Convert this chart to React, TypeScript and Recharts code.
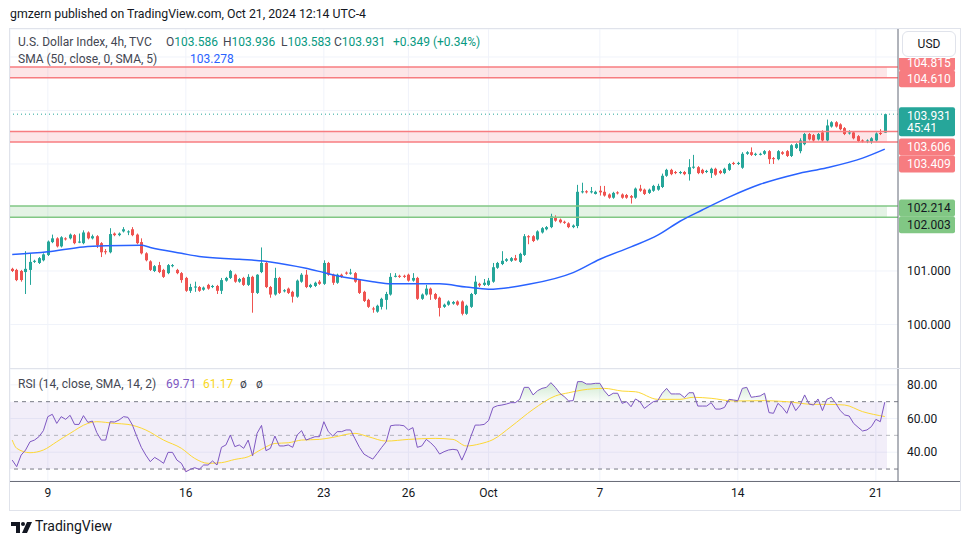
import React from "react";
import {
  ComposedChart,
  Bar,
  Line,
  Area,
  XAxis,
  YAxis,
  CartesianGrid,
  ReferenceLine,
  ReferenceArea,
} from "recharts";

// 4h candles, Sep 6 -> Oct 21 2024
const opens = [
  101.04, 101.02, 101.0, 100.98, 101.02, 101.17, 101.15, 101.2, 101.3, 101.54,
  101.61, 101.46, 101.61, 101.61, 101.67, 101.53, 101.52, 101.72, 101.61, 101.65,
  101.52, 101.37, 101.35, 101.7, 101.67, 101.74, 101.73, 101.78, 101.68, 101.54,
  101.33, 101.18, 101.0, 101.11, 101.02, 100.96, 101.09, 101.02, 100.96, 100.87,
  100.63, 100.69, 100.7, 100.65, 100.74, 100.7, 100.72, 100.63, 100.82, 100.87,
  100.93, 100.8, 100.87, 100.74, 100.89, 100.59, 100.98, 101.15, 100.7, 100.56,
  100.87, 100.62, 100.67, 100.61, 100.52, 100.8, 100.93, 100.7, 100.72, 100.8,
  100.76, 101.15, 100.93, 100.78, 100.93, 100.97, 100.95, 100.96, 100.83, 100.61,
  100.46, 100.3, 100.24, 100.33, 100.46, 100.56, 100.89, 100.91, 100.91, 100.93,
  100.82, 100.87, 100.48, 100.56, 100.67, 100.57, 100.5, 100.33, 100.37, 100.39,
  100.43, 100.43, 100.2, 100.33, 100.57, 100.76, 100.74, 100.74, 100.8, 101.06,
  101.13, 101.19, 101.19, 101.24, 101.17, 101.3, 101.65, 101.65, 101.59, 101.72,
  101.78, 101.82, 102.0, 101.96, 101.92, 101.89, 101.82, 101.84, 102.47, 102.49,
  102.47, 102.44, 102.5, 102.48, 102.43, 102.37, 102.47, 102.43, 102.42, 102.4,
  102.37, 102.54, 102.52, 102.46, 102.5, 102.52, 102.57, 102.78, 102.89, 102.85,
  102.83, 102.85, 102.81, 102.93, 102.94, 102.89, 102.85, 102.83, 102.91, 102.87,
  102.83, 102.89, 103.02, 103.0, 102.93, 103.19, 103.22, 103.17, 103.18, 103.19,
  103.24, 103.11, 103.09, 103.22, 103.24, 103.15, 103.3, 103.24, 103.37, 103.56,
  103.54, 103.46, 103.59, 103.44, 103.7, 103.78, 103.74, 103.67, 103.57, 103.59,
  103.52, 103.44, 103.42, 103.42, 103.44, 103.58, 103.586,
];
const highs = [
  101.06, 101.04, 101.02, 101.37, 101.33, 101.21, 101.26, 101.33, 101.57, 101.68,
  101.63, 101.65, 101.63, 101.7, 101.69, 101.7, 101.76, 101.74, 101.68, 101.67,
  101.54, 101.41, 101.8, 101.72, 101.72, 101.82, 101.76, 101.82, 101.7, 101.61,
  101.35, 101.2, 101.11, 101.17, 101.04, 101.13, 101.13, 101.04, 100.98, 100.89,
  100.76, 100.8, 100.72, 100.71, 100.76, 100.74, 100.74, 100.87, 100.89, 101.02,
  100.95, 100.87, 100.89, 100.94, 100.91, 100.94, 101.44, 101.17, 100.72, 101.06,
  100.89, 100.66, 100.69, 100.63, 100.84, 100.96, 101.02, 100.76, 100.8, 100.83,
  101.2, 101.17, 100.95, 100.95, 100.95, 100.99, 101.04, 100.98, 100.85, 100.63,
  100.48, 100.33, 100.37, 100.5, 100.61, 100.96, 100.96, 100.93, 100.93, 100.95,
  100.96, 100.89, 100.58, 100.74, 100.69, 100.59, 100.52, 100.39, 100.45, 100.44,
  100.45, 100.45, 100.37, 100.59, 100.91, 100.78, 100.85, 100.87, 101.15, 101.17,
  101.37, 101.24, 101.26, 101.3, 101.34, 101.69, 101.67, 101.67, 101.76, 101.82,
  101.84, 102.07, 102.04, 101.98, 101.94, 101.91, 101.87, 102.61, 102.65, 102.51,
  102.57, 102.5, 102.59, 102.59, 102.45, 102.48, 102.49, 102.45, 102.44, 102.42,
  102.56, 102.61, 102.54, 102.54, 102.61, 102.63, 102.82, 102.91, 102.91, 102.87,
  102.87, 102.87, 103.09, 103.17, 102.96, 102.91, 102.89, 102.93, 102.93, 102.89,
  102.93, 103.02, 103.04, 103.04, 103.22, 103.24, 103.31, 103.21, 103.21, 103.26,
  103.26, 103.13, 103.26, 103.24, 103.26, 103.37, 103.39, 103.48, 103.58, 103.58,
  103.56, 103.58, 103.63, 103.83, 103.8, 103.8, 103.76, 103.69, 103.63, 103.61,
  103.54, 103.46, 103.46, 103.5, 103.59, 103.65, 103.936,
];
const lows = [
  100.98, 100.81, 100.8, 100.57, 100.74, 101.15, 101.13, 101.18, 101.28, 101.52,
  101.44, 101.44, 101.57, 101.59, 101.5, 101.52, 101.5, 101.59, 101.59, 101.43,
  101.26, 101.31, 101.33, 101.65, 101.65, 101.72, 101.67, 101.65, 101.5, 101.31,
  101.18, 101.0, 100.98, 100.96, 100.87, 100.94, 101.07, 100.94, 100.78, 100.61,
  100.59, 100.61, 100.61, 100.63, 100.65, 100.68, 100.57, 100.57, 100.8, 100.85,
  100.78, 100.78, 100.72, 100.72, 100.22, 100.57, 100.96, 100.68, 100.5, 100.54,
  100.57, 100.6, 100.57, 100.41, 100.5, 100.78, 100.68, 100.68, 100.7, 100.74,
  100.74, 100.91, 100.74, 100.76, 100.87, 100.93, 100.93, 100.78, 100.57, 100.42,
  100.31, 100.22, 100.22, 100.28, 100.28, 100.54, 100.88, 100.87, 100.87, 100.8,
  100.8, 100.46, 100.46, 100.54, 100.46, 100.46, 100.15, 100.31, 100.35, 100.37,
  100.35, 100.17, 100.18, 100.31, 100.55, 100.7, 100.72, 100.72, 100.78, 101.04,
  101.11, 101.17, 101.17, 101.19, 101.15, 101.28, 101.5, 101.54, 101.57, 101.7,
  101.76, 101.8, 101.92, 101.89, 101.88, 101.8, 101.8, 101.8, 102.45, 102.45,
  102.45, 102.43, 102.41, 102.39, 102.35, 102.35, 102.43, 102.35, 102.35, 102.26,
  102.35, 102.48, 102.42, 102.44, 102.48, 102.5, 102.55, 102.76, 102.79, 102.81,
  102.81, 102.79, 102.69, 102.91, 102.81, 102.81, 102.83, 102.74, 102.78, 102.81,
  102.81, 102.87, 102.98, 102.98, 102.91, 103.17, 103.15, 103.15, 103.16, 103.17,
  103.0, 103.0, 103.07, 103.17, 103.13, 103.13, 103.28, 103.2, 103.35, 103.44,
  103.42, 103.44, 103.42, 103.42, 103.68, 103.68, 103.63, 103.54, 103.55, 103.46,
  103.41, 103.4, 103.39, 103.38, 103.42, 103.54, 103.583,
];
const closes = [
  101.0, 100.83, 100.83, 101.04, 101.17, 101.19, 101.24, 101.31, 101.55, 101.61,
  101.46, 101.63, 101.59, 101.68, 101.52, 101.55, 101.72, 101.61, 101.65, 101.48,
  101.35, 101.35, 101.69, 101.67, 101.7, 101.78, 101.74, 101.67, 101.52, 101.33,
  101.2, 101.02, 101.09, 100.98, 100.89, 101.11, 101.11, 100.96, 100.83, 100.63,
  100.7, 100.71, 100.63, 100.69, 100.67, 100.72, 100.63, 100.83, 100.87, 101.0,
  100.8, 100.85, 100.74, 100.89, 100.59, 100.93, 101.15, 100.7, 100.56, 100.87,
  100.59, 100.64, 100.59, 100.52, 100.82, 100.93, 100.7, 100.74, 100.78, 100.76,
  101.15, 100.93, 100.78, 100.93, 100.89, 100.95, 100.97, 100.8, 100.59, 100.44,
  100.33, 100.28, 100.35, 100.48, 100.57, 100.89, 100.91, 100.89, 100.89, 100.82,
  100.87, 100.48, 100.56, 100.67, 100.56, 100.48, 100.31, 100.37, 100.43, 100.42,
  100.37, 100.2, 100.35, 100.57, 100.8, 100.73, 100.78, 100.82, 101.07, 101.15,
  101.19, 101.22, 101.24, 101.2, 101.32, 101.65, 101.63, 101.56, 101.74, 101.8,
  101.82, 102.02, 101.94, 101.91, 101.9, 101.82, 101.85, 102.48, 102.49, 102.47,
  102.49, 102.48, 102.47, 102.41, 102.37, 102.46, 102.45, 102.37, 102.37, 102.37,
  102.54, 102.5, 102.44, 102.52, 102.59, 102.59, 102.78, 102.89, 102.81, 102.83,
  102.85, 102.81, 102.94, 102.95, 102.83, 102.83, 102.87, 102.91, 102.8, 102.83,
  102.91, 103.0, 103.0, 103.02, 103.19, 103.22, 103.17, 103.19, 103.19, 103.24,
  103.09, 103.09, 103.24, 103.19, 103.15, 103.35, 103.37, 103.44, 103.56, 103.46,
  103.44, 103.56, 103.44, 103.72, 103.78, 103.7, 103.65, 103.56, 103.59, 103.48,
  103.43, 103.42, 103.44, 103.48, 103.57, 103.56, 103.931,
];

// RSI(14), one value per candle
const rsiValues = [
  35.3, 31.4, 38.3, 41.3, 46.2, 47.2, 49.2, 52.8, 61.1, 62.5,
  57.1, 61.1, 59.5, 61.9, 56.5, 56.5, 61.7, 57.7, 58.5, 51.6,
  47.2, 47.2, 58.1, 57.9, 59.1, 61.1, 60.7, 56.1, 49.2, 42.9,
  38.3, 34.4, 36.9, 35.3, 33.4, 39.9, 39.9, 35.3, 33.4, 28.4,
  29.8, 30.8, 29.8, 32.4, 32.4, 34.8, 32.4, 42.9, 44.3, 50.2,
  43.3, 44.3, 42.3, 47.2, 37.9, 51.2, 55.9, 40.9, 42.3, 49.6,
  43.7, 43.7, 44.3, 42.9, 50.2, 52.8, 47.2, 48.2, 49.2, 49.2,
  58.1, 52.2, 49.6, 52.2, 52.2, 53.2, 53.2, 48.0, 42.9, 38.9,
  37.3, 35.9, 39.3, 42.9, 46.2, 55.7, 56.1, 56.1, 55.7, 53.2,
  54.6, 42.9, 43.7, 47.6, 45.6, 42.9, 38.9, 40.3, 41.3, 41.7,
  41.3, 35.3, 41.3, 49.2, 56.1, 56.1, 56.5, 58.8, 66.5, 67.6,
  68.0, 68.6, 69.4, 69.4, 71.4, 78.5, 78.5, 74.0, 76.5, 77.9,
  78.5, 81.3, 78.5, 75.0, 73.0, 70.4, 70.6, 81.9, 81.9, 80.5,
  80.5, 80.9, 80.9, 76.5, 73.4, 75.0, 75.0, 69.0, 70.0, 67.0,
  71.6, 70.0, 66.0, 68.0, 70.0, 70.6, 75.0, 77.9, 74.6, 74.6,
  74.6, 72.4, 75.3, 75.3, 67.4, 67.4, 67.4, 69.4, 65.6, 65.6,
  66.6, 71.4, 71.0, 70.6, 77.9, 78.5, 72.6, 73.0, 73.4, 75.0,
  63.5, 63.1, 69.0, 66.6, 63.1, 70.0, 64.7, 68.0, 74.0, 68.6,
  68.0, 71.6, 64.7, 71.4, 72.6, 69.0, 64.7, 62.1, 61.5, 57.1,
  54.8, 52.6, 53.2, 55.2, 59.5, 58.1, 69.71,
];

// SMA(50) on price, read at these candle positions
const smaAt = [0, 8, 16, 21, 29, 31, 38, 42, 51, 58, 66, 70, 73, 81, 85, 96, 102, 107, 116, 126, 132, 139, 145, 150, 155, 161, 168, 176, 183, 191, 196];
const smaValues = [101.31, 101.36, 101.45, 101.47, 101.48, 101.44, 101.33, 101.27, 101.22, 101.17, 101.05, 100.97, 100.91, 100.8, 100.76, 100.76, 100.7, 100.66, 100.75, 100.97, 101.22, 101.45, 101.67, 101.93, 102.14, 102.38, 102.62, 102.81, 102.93, 103.11, 103.278];

// SMA(14) on RSI
const rsiMaAt = [0, 1, 4, 7, 10, 13, 17, 19, 23, 26, 30, 34, 38, 41, 44, 47, 50, 53, 56, 59, 62, 65, 69, 72, 77, 80, 84, 89, 95, 99, 102, 105, 108, 112, 117, 122, 125, 128, 133, 137, 140, 145, 150, 153, 157, 162, 169, 174, 180, 183, 187, 191, 196];
const rsiMaValues = [47.2, 42.3, 39.7, 41.3, 46.2, 51.2, 57.1, 58.1, 57.1, 56.5, 53.2, 47.2, 42.3, 36.3, 33.4, 33.8, 35.7, 37.3, 41.7, 45.2, 45.6, 47.2, 47.6, 48.8, 51.2, 49.2, 46.6, 47.6, 48.2, 47.6, 43.7, 44.9, 47.5, 55.1, 65.4, 73.4, 75.3, 76.9, 77.9, 76.3, 75.9, 71.4, 71.4, 72.6, 72.0, 70.4, 70.6, 70.0, 68.4, 68.4, 68.0, 64.1, 61.17];

const tickAt = [8, 39, 70, 89, 107, 132, 163, 194];
const tickLabels = ["9", "16", "23", "26", "Oct", "7", "14", "21"];

const zoneLows = [104.61, 103.409, 102.003];
const zoneHighs = [104.815, 103.606, 102.214];
const lastPrice = 103.931;
const priceGrid = [100, 101, 102, 103, 104, 105];
const rsiTicks = [40, 60, 80];

const UP = "#26a69a";
const DOWN = "#ef5350";
const AXIS = "#6b6e79";
const GRID = "#f0f3fa";

const data = opens.map((o, i) => {
  const r = rsiValues[i];
  return {
    i,
    open: o,
    high: highs[i],
    low: lows[i],
    close: closes[i],
    range: [lows[i], highs[i]],
    sma: null as number | null,
    rsi: r,
    rsiMa: null as number | null,
    ob: r > 70 ? [70, r] : [70, 70],
    os: r < 30 ? [r, 30] : [30, 30],
  };
});
smaAt.forEach((idx, k) => (data[idx].sma = smaValues[k]));
rsiMaAt.forEach((idx, k) => (data[idx].rsiMa = rsiMaValues[k]));

const Candle = (props: any) => {
  const { x, y, width, height, payload } = props;
  if (!payload || x == null) return null;
  const { open, close, high, low } = payload;
  const top = Math.min(y, y + height);
  const h = Math.abs(height);
  const span = high - low;
  const toY = (v: number) => (span === 0 ? top : top + ((high - v) / span) * h);
  const color = close >= open ? UP : DOWN;
  const cx = Math.round(x + width / 2);
  const bTop = toY(Math.max(open, close));
  const bBot = toY(Math.min(open, close));
  return (
    <g>
      <line x1={cx + 0.5} x2={cx + 0.5} y1={top} y2={top + h} stroke={color} strokeWidth={1} />
      <rect x={cx - 1} y={bTop} width={3} height={Math.max(1, bBot - bTop)} fill={color} />
    </g>
  );
};

const PriceTag = (props: any) => {
  const { viewBox, text, sub, bg, fg, shift } = props;
  if (!viewBox) return null;
  const x0 = viewBox.x + viewBox.width + 1;
  const cy = viewBox.y + shift;
  const h = sub ? 29 : 17;
  return (
    <g>
      <rect x={x0} y={cy - 8.5} width={56} height={h} rx={2} fill={bg} />
      <text x={x0 + 8} y={cy} dy="0.35em" fontSize={12} fill={fg}>
        {text}
      </text>
      {sub && (
        <text x={x0 + 8} y={cy + 12.5} dy="0.35em" fontSize={12} fill={fg}>
          {sub}
        </text>
      )}
    </g>
  );
};

const PriceTick = (props: any) => {
  const { x, y, payload } = props;
  if (payload.value > 101) return null;
  return (
    <text x={x} y={y} dy="0.35em" fontSize={12} fill="#131722" textAnchor="start">
      {payload.value.toFixed(3)}
    </text>
  );
};

const RsiTick = (props: any) => {
  const { x, y, payload } = props;
  return (
    <text x={x} y={y} dy="0.35em" fontSize={12} fill="#131722" textAnchor="start">
      {payload.value.toFixed(2)}
    </text>
  );
};

const zoneStyle = [
  { fill: "#f23645", opacity: 0.13, line: "#f77c80", tag: "#f77c80", text: "#ffffff", shifts: [1, -4.5] },
  { fill: "#f23645", opacity: 0.13, line: "#f77c80", tag: "#f77c80", text: "#ffffff", shifts: [22, 15.5] },
  { fill: "#4caf50", opacity: 0.15, line: "#81c784", tag: "#81c784", text: "#131722", shifts: [7.5, 2] },
];

const abs = (s: React.CSSProperties): React.CSSProperties => ({ position: "absolute", ...s });
const legend = (left: number, top: number, color: string): React.CSSProperties =>
  abs({ left, top, fontSize: 12, whiteSpace: "nowrap", color });

export default function App() {
  return (
    <div
      style={abs({
        left: 0,
        top: 0,
        width: 970,
        height: 545,
        background: "#ffffff",
        fontFamily: "Roboto, 'Noto Sans', sans-serif",
        color: "#131722",
        overflow: "hidden",
      })}
    >
      <div style={abs({ left: 10, top: 7, fontSize: 12.3, whiteSpace: "nowrap" })}>
        gmzern published on TradingView.com, Oct 21, 2024 12:14 UTC-4
      </div>

      {/* price pane */}
      <div style={abs({ left: 10, top: 29 })}>
        <ComposedChart
          width={950}
          height={340}
          data={data}
          margin={{ top: 0, right: 0, bottom: 0, left: 0 }}
          barCategoryGap={0}
          barGap={0}
        >
          <CartesianGrid stroke={GRID} />
          <XAxis dataKey="i" scale="band" ticks={tickAt} hide padding={{ left: 0, right: 11 }} />
          <YAxis
            orientation="right"
            width={62}
            type="number"
            domain={[99.168, 105.523]}
            ticks={priceGrid}
            allowDataOverflow
            tickLine={false}
            tickSize={0}
            tickMargin={9}
            axisLine={{ stroke: AXIS }}
            tick={<PriceTick />}
          />
          {zoneLows.map((lo, k) => (
            <ReferenceArea
              key={"za" + k}
              y1={lo}
              y2={zoneHighs[k]}
              fill={zoneStyle[k].fill}
              fillOpacity={zoneStyle[k].opacity}
              stroke="none"
            />
          ))}
          {zoneLows.map((lo, k) => (
            <ReferenceLine
              key={"zl" + k}
              y={lo}
              stroke={zoneStyle[k].line}
              strokeWidth={1.5}
              label={
                <PriceTag
                  text={lo.toFixed(3)}
                  bg={zoneStyle[k].tag}
                  fg={zoneStyle[k].text}
                  shift={zoneStyle[k].shifts[0]}
                />
              }
            />
          ))}
          {zoneHighs.map((hi, k) => (
            <ReferenceLine
              key={"zh" + k}
              y={hi}
              stroke={zoneStyle[k].line}
              strokeWidth={1.5}
              label={
                <PriceTag
                  text={hi.toFixed(3)}
                  bg={zoneStyle[k].tag}
                  fg={zoneStyle[k].text}
                  shift={zoneStyle[k].shifts[1]}
                />
              }
            />
          ))}
          <ReferenceLine
            y={lastPrice}
            stroke={UP}
            strokeDasharray="1 3"
            label={<PriceTag text={lastPrice.toFixed(3)} sub="45:41" bg={UP} fg="#ffffff" shift={1.5} />}
          />
          <Bar dataKey="range" shape={<Candle />} isAnimationActive={false} />
          <Line
            dataKey="sma"
            type="monotone"
            stroke="#2962ff"
            strokeWidth={1.5}
            dot={false}
            connectNulls
            isAnimationActive={false}
          />
        </ComposedChart>
      </div>

      {/* RSI pane */}
      <div style={abs({ left: 10, top: 369 })}>
        <ComposedChart width={950} height={140} data={data} margin={{ top: 0, right: 0, bottom: 0, left: 0 }}>
          <defs>
            <linearGradient id="obFill" x1="0" y1="0" x2="0" y2="1">
              <stop offset="0%" stopColor="#4caf50" stopOpacity={0.45} />
              <stop offset="100%" stopColor="#4caf50" stopOpacity={0.05} />
            </linearGradient>
            <linearGradient id="osFill" x1="0" y1="0" x2="0" y2="1">
              <stop offset="0%" stopColor="#f23645" stopOpacity={0.05} />
              <stop offset="100%" stopColor="#f23645" stopOpacity={0.4} />
            </linearGradient>
          </defs>
          <CartesianGrid stroke={GRID} />
          <XAxis
            dataKey="i"
            scale="band"
            ticks={tickAt}
            height={28}
            padding={{ left: 0, right: 11 }}
            axisLine={false}
            tickLine={false}
            tickSize={5}
            tick={{ fontSize: 12, fill: "#131722" }}
            tickFormatter={(v: number) => tickLabels[tickAt.indexOf(v)] ?? ""}
          />
          <YAxis
            orientation="right"
            width={62}
            type="number"
            domain={[22.9, 89.4]}
            ticks={rsiTicks}
            allowDataOverflow
            tickLine={false}
            tickSize={0}
            tickMargin={9}
            axisLine={{ stroke: AXIS }}
            tick={<RsiTick />}
          />
          <ReferenceArea y1={30} y2={70} fill="#7e57c2" fillOpacity={0.1} stroke="none" />
          <ReferenceLine y={70} stroke="#787b86" strokeDasharray="4 4" />
          <ReferenceLine y={50} stroke="#787b86" strokeOpacity={0.5} strokeDasharray="4 4" />
          <ReferenceLine y={30} stroke="#787b86" strokeDasharray="4 4" />
          <Area dataKey="ob" type="linear" stroke="none" fill="url(#obFill)" isAnimationActive={false} />
          <Area dataKey="os" type="linear" stroke="none" fill="url(#osFill)" isAnimationActive={false} />
          <Line
            dataKey="rsiMa"
            type="monotone"
            stroke="#fdd835"
            strokeWidth={1}
            dot={false}
            connectNulls
            isAnimationActive={false}
          />
          <Line dataKey="rsi" type="linear" stroke="#7e57c2" strokeWidth={1} dot={false} isAnimationActive={false} />
        </ComposedChart>
      </div>

      {/* frame and pane separators */}
      <div style={abs({ left: 10, top: 368, width: 950, height: 1, background: "#e0e3eb" })} />
      <div style={abs({ left: 10, top: 481, width: 950, height: 1, background: AXIS })} />
      <div
        style={abs({
          left: 9,
          top: 28,
          width: 950,
          height: 481,
          border: "1px solid #e0e3eb",
          pointerEvents: "none",
        })}
      />
      <div style={abs({ left: 899, top: 29, width: 60, height: 29, background: "#ffffff" })} />
      <div
        style={abs({
          left: 902,
          top: 31,
          width: 52,
          height: 24,
          border: "1px solid #e0e3eb",
          borderRadius: 6,
          fontSize: 12,
          lineHeight: "24px",
          textAlign: "center",
          background: "#ffffff",
        })}
      >
        USD
      </div>

      {/* legends */}
      <div style={legend(18, 35, "#434651")}>U.S. Dollar Index, 4h, TVC</div>
      <div style={legend(166, 35, "#434651")}>
        O<span style={{ color: "#089981" }}>103.586</span>
      </div>
      <div style={legend(223, 35, "#434651")}>
        H<span style={{ color: "#089981" }}>103.936</span>
      </div>
      <div style={legend(281, 35, "#434651")}>
        L<span style={{ color: "#089981" }}>103.583</span>
      </div>
      <div style={legend(334, 35, "#434651")}>
        C<span style={{ color: "#089981" }}>103.931</span>
      </div>
      <div style={legend(393, 35, "#089981")}>+0.349 (+0.34%)</div>
      <div style={legend(18, 52, "#434651")}>SMA (50, close, 0, SMA, 5)</div>
      <div style={legend(190, 52, "#2962ff")}>103.278</div>
      <div style={legend(18, 377, "#434651")}>RSI (14, close, SMA, 14, 2)</div>
      <div style={legend(166, 377, "#7e57c2")}>69.71</div>
      <div style={legend(203, 377, "#f9d71c")}>61.17</div>
      <div style={legend(240, 377, "#434651")}>ø</div>
      <div style={legend(256, 377, "#434651")}>ø</div>

      {/* footer logo */}
      <svg style={abs({ left: 11, top: 522 })} width={22} height={11} viewBox="0 0 22 11">
        <path d="M0 0h9v11H5V4H0z" fill="#131722" />
        <circle cx="12" cy="2" r="2" fill="#131722" />
        <path d="M16 0h5l-5 11h-5z" fill="#131722" />
      </svg>
      <div style={abs({ left: 35, top: 518, fontSize: 14, color: "#131722" })}>TradingView</div>
    </div>
  );
}
